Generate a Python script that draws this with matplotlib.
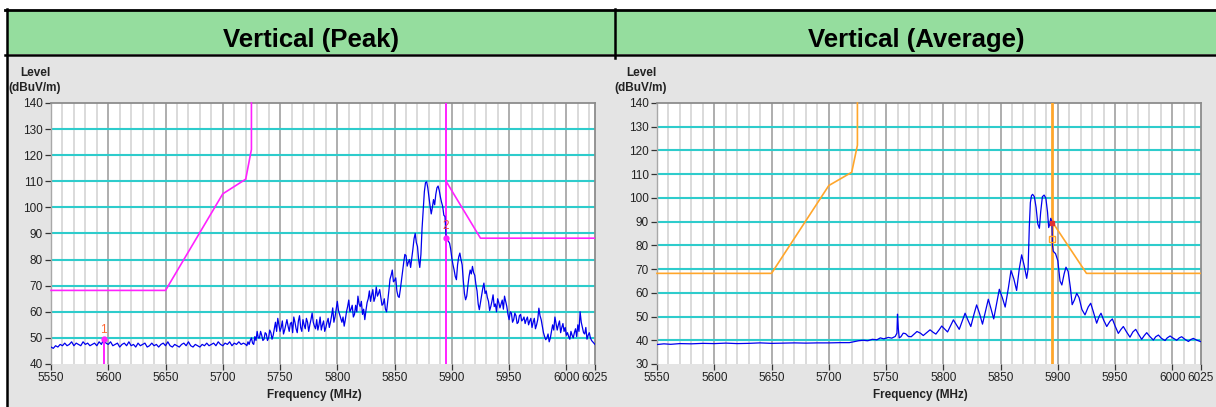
import numpy as np
import matplotlib
matplotlib.use("Agg")
import matplotlib.pyplot as plt
from matplotlib.patches import Rectangle
from matplotlib.lines import Line2D

plt.rcParams['font.family'] = ['Liberation Sans', 'DejaVu Sans']

# ---------------- data ----------------
titles = ["Vertical (Peak)", "Vertical (Average)"]
x_ticks = [5550, 5600, 5650, 5700, 5750, 5800, 5850, 5900, 5950, 6000, 6025]

# Peak trace (dBuV/m)
peak_freq_a = np.arange(5550, 5720, 2)
peak_level_a = [
    # 5550-5600
    46.5, 46.0, 47.0, 46.5, 47.5, 47.0, 48.0, 47.0, 47.5, 48.5, 47.0, 48.0, 47.5,
    47.0, 48.5, 47.5, 48.0, 47.0, 47.5, 48.0, 47.0, 48.5, 47.5, 49.6, 48.0, 47.5,
    # 5602-5700
    48.5, 47.0, 47.5, 48.0, 46.5, 47.5, 48.0, 47.0, 48.5, 47.0, 47.5, 46.5, 48.0,
    47.0, 47.5, 48.0, 46.5, 47.0, 48.0, 47.0, 47.5, 46.5, 47.5, 48.0, 47.0, 48.5,
    47.0, 46.5, 47.5, 47.0, 46.5, 47.5, 48.0, 47.0, 48.5, 47.0, 46.5, 47.5, 47.0,
    46.5, 47.5, 47.0, 48.0, 47.0, 47.5, 48.0, 47.0, 48.5, 47.5, 47.0,
    # 5702-5718
    48.0, 47.5, 48.5, 47.0, 48.0, 47.5, 48.5, 47.5, 48.0,
]
peak_freq_b = np.arange(5720, 5873, 1)
peak_level_b = [
    47.5, 47.0, 48.5, 47.5, 49.0, 50.0, 48.0, 47.5, 50.5, 49.0,
    52.5, 50.0, 50.0, 52.5, 51.0, 49.0, 49.5, 52.0, 51.5, 49.0,
    50.0, 53.0, 52.0, 49.5, 51.0, 53.5, 56.0, 52.5, 57.5, 55.0,
    52.5, 54.0, 56.5, 51.5, 53.0, 55.0, 57.0, 54.5, 52.5, 55.5,
    56.0, 52.0, 58.0, 56.0, 53.5, 52.0, 56.5, 58.5, 54.0, 52.5,
    57.0, 55.0, 53.5, 57.5, 56.0, 52.5, 55.0, 57.0, 59.5, 56.0,
    54.5, 53.5, 57.0, 53.0, 55.0, 58.0, 53.0, 55.0, 56.5, 52.5,
    54.0, 56.0, 57.5, 54.0, 56.0, 58.5, 61.5, 56.0, 58.0, 61.0,
    64.0, 60.5, 59.0, 57.5, 56.0, 58.0, 54.5, 57.0, 60.0, 62.0,
    64.5, 60.0, 61.0, 62.5, 58.0, 59.0, 62.5, 60.0, 66.0, 63.0,
    62.0, 64.0, 59.0, 61.0, 57.0, 60.5, 63.5, 65.0, 68.0, 64.0,
    66.5, 68.5, 64.0, 65.5, 69.5, 66.0, 67.0, 68.5, 65.5, 62.5,
    63.0, 65.0, 61.0, 60.0, 64.0, 68.0, 72.5, 74.0, 76.0, 71.5,
    72.0, 73.0, 68.0, 66.0, 65.5, 68.5, 72.0, 75.5, 79.0, 82.0,
    81.5, 77.5, 79.0, 80.0, 77.0, 80.5, 84.0, 88.0, 90.0, 86.5,
    85.0, 80.0, 77.0,
]
peak_freq_c = np.arange(5873, 5914, 1)
peak_level_c = [
    82.0, 92.0, 99.0, 106.0, 109.5, 109.8, 107.5, 104.0, 100.5, 97.5, 100.0,
    103.0, 101.0, 105.0, 107.5, 108.2, 106.5, 104.0, 102.0, 100.4, 97.0, 96.5,
    88.3, 88.5, 87.0, 86.3, 84.0, 80.5, 78.0, 76.0, 73.5, 72.3, 78.0, 81.0,
    82.5, 80.0, 78.0, 72.0, 67.0, 64.6, 66.0,
]
peak_freq_d = np.arange(5914, 6026, 1)
peak_level_d = [
    70.0, 73.5, 76.0, 74.5, 77.4, 75.0, 74.0, 70.5, 68.0, 63.0,
    60.8, 63.5, 66.0, 69.0, 71.0, 67.0, 68.0, 65.5, 64.0, 60.5,
    62.0, 64.0, 66.5, 62.0, 63.0, 60.0, 65.0, 63.5, 61.5, 63.0,
    64.5, 61.0, 66.0, 64.0, 62.0, 59.0, 57.0, 60.0, 59.5, 56.0,
    57.0, 59.5, 58.5, 55.5, 56.0, 58.5, 59.0, 56.5, 57.0, 58.0,
    55.5, 57.0, 58.0, 55.0, 56.5, 57.5, 54.0, 56.0, 57.5, 53.5,
    55.0, 57.0, 61.4, 58.5, 57.0, 54.5, 52.0, 50.5, 49.3, 50.0,
    51.5, 48.5, 50.0, 52.5, 55.0, 53.0, 58.0, 55.5, 53.0, 55.0,
    56.5, 52.0, 54.0, 55.5, 52.5, 54.0, 51.0, 52.0, 50.5, 49.5,
    52.5, 51.0, 50.0, 52.0, 53.5, 50.5, 55.0, 52.5, 60.0, 56.0,
    54.0, 52.0, 51.5, 54.0, 49.5, 51.0, 52.0, 50.0, 49.0, 48.5,
    48.0, 47.5,
]

# Average trace (dBuV/m)
avg_freq = [
    5550, 5556, 5562, 5570, 5580, 5590, 5600, 5610, 5620, 5630, 5640, 5650,
    5660, 5670, 5680, 5690, 5700, 5710, 5718, 5722, 5726, 5730, 5734, 5738,
    5742, 5745, 5748, 5752, 5755, 5758, 5759.5, 5760, 5760.7, 5761.5, 5763,
    5765, 5767, 5769.5, 5772, 5774.5, 5777, 5780, 5782.5, 5785.5, 5788.4,
    5791, 5793.5, 5796.5, 5798.6, 5801.5, 5803.7, 5806.5, 5808.8, 5811.5,
    5813.9, 5816.5, 5819.0, 5821.5, 5824.0, 5826.8, 5829.1, 5831.8, 5834.2,
    5837.0, 5839.3, 5841.8, 5844.0, 5846.5, 5848.9, 5851.5, 5854.0, 5856.8,
    5859.1, 5861.5, 5864.0, 5866.3, 5868.4, 5870.6, 5872.8, 5874.0, 5875.1,
    5876.0, 5877.0, 5878.0, 5879.5, 5881.0, 5882.5, 5883.9, 5885.0, 5886.5,
    5888.0, 5889.5, 5891.0, 5892.0, 5893.0, 5893.8, 5894.8, 5895.3, 5896.0,
    5898.0, 5900.0, 5901.9, 5903.5, 5905.5, 5907.1, 5909.0, 5911.0, 5912.5,
    5914.5, 5916.5, 5918.5, 5921.0, 5923.7, 5926.5, 5928.7, 5931.0, 5933.9,
    5936.0, 5937.7, 5940.0, 5942.7, 5945.5, 5947.6, 5950.0, 5952.8, 5955.0,
    5957.2, 5960.0, 5963.0, 5965.5, 5968.0, 5970.5, 5973.2, 5975.5, 5977.6,
    5980.5, 5983.4, 5985.5, 5987.8, 5990.5, 5993.6, 5995.5, 5998.0, 6001.0,
    6003.8, 6006.0, 6008.1, 6011.0, 6014.0, 6016.0, 6018.3, 6021.5, 6025.0,
]
avg_level = [
    38.2, 38.5, 38.3, 38.6, 38.5, 38.7, 38.6, 38.8, 38.6, 38.7, 38.9, 38.7,
    38.8, 38.9, 38.8, 38.9, 38.9, 39.0, 39.0, 39.4, 39.8, 40.0, 39.8, 40.4,
    40.2, 41.0, 40.6, 41.2, 40.9, 41.6, 43.0, 51.0, 45.0, 41.0, 41.5,
    43.0, 42.8, 41.6, 41.5, 42.6, 43.7, 43.0, 42.0, 43.2, 44.4,
    43.4, 42.6, 44.5, 46.0, 44.6, 43.5, 46.3, 48.6, 46.5,
    44.6, 48.0, 51.4, 48.5, 45.8, 51.0, 54.9, 51.0, 46.8,
    52.5, 57.3, 53.0, 49.0, 55.5, 61.5, 58.0, 54.0, 62.0,
    69.4, 66.0, 61.0, 70.0, 76.0, 71.5, 66.1, 70.0, 88.0,
    98.0, 101.0, 101.5, 100.5, 96.0, 89.0, 87.2, 94.0, 100.5,
    101.2, 100.0, 94.0, 87.5, 89.0, 91.4, 90.0, 80.0, 77.5,
    76.5, 73.5, 65.0, 63.3, 68.0, 70.8, 69.0, 62.0, 55.0,
    57.0, 59.8, 58.0, 53.0, 50.7, 54.0, 55.6, 52.0, 47.2,
    50.0, 51.4, 48.5, 45.8, 48.0, 49.0, 46.0, 42.9, 44.5,
    45.8, 43.5, 41.3, 43.5, 44.6, 42.5, 40.4, 42.0, 43.2,
    41.5, 40.1, 41.5, 42.2, 40.8, 39.9, 41.0, 41.8, 40.8,
    40.0, 41.0, 41.5, 40.4, 39.5, 40.3, 40.8, 40.0, 39.4,
]

# Limit lines
limit_left_freq = [5550, 5650, 5700, 5720, 5725, 5725]
limit_left_level = [68.2, 68.2, 105.2, 110.8, 122.2, 140.0]
limit_right_freq = [5895, 5925, 6025]
peak_limit_right_level = [110.0, 88.2, 88.2]
avg_limit_right_level = [90.0, 68.2, 68.2]

# Markers
peak_marker_freq = [5596, 5895]
peak_marker_level = [49.6, 88.3]
avg_marker_freq = 5895
avg_marker_level = [89.4, 82.6]

peak_freq = np.concatenate([peak_freq_a, peak_freq_b, peak_freq_c, peak_freq_d])
peak_level = np.array(peak_level_a + peak_level_b + peak_level_c + peak_level_d)
assert len(peak_freq_a) == len(peak_level_a), (len(peak_freq_a), len(peak_level_a))
assert len(peak_freq_b) == len(peak_level_b), (len(peak_freq_b), len(peak_level_b))
assert len(peak_freq_c) == len(peak_level_c), (len(peak_freq_c), len(peak_level_c))
assert len(peak_freq_d) == len(peak_level_d), (len(peak_freq_d), len(peak_level_d))
assert len(avg_freq) == len(avg_level), (len(avg_freq), len(avg_level))

# ---------------- layout ----------------
W, H = 1216, 407
def fx(x):
    return x / W
def fy(y):
    return 1 - y / H

fig = plt.figure(figsize=(12.16, 4.07), dpi=100)
fig.patch.set_facecolor('white')

fig.add_artist(Rectangle((fx(8), 0), 1 - fx(8), fy(57), transform=fig.transFigure,
                         facecolor='#E4E4E4', edgecolor='none', zorder=0))
fig.add_artist(Rectangle((fx(7), fy(54)), 1 - fx(7), fy(11) - fy(54), transform=fig.transFigure,
                         facecolor='#95DD9E', edgecolor='none', zorder=0))
bk = dict(transform=fig.transFigure, color='black', zorder=5)
fig.add_artist(Line2D([fx(5), 1], [fy(10), fy(10)], lw=2.0, **bk))
fig.add_artist(Line2D([fx(5), 1], [fy(54.5), fy(54.5)], lw=1.8, **bk))
fig.add_artist(Line2D([fx(7), fx(7)], [fy(9), 0], lw=1.8, **bk))
fig.add_artist(Line2D([fx(615), fx(615)], [fy(9), fy(58)], lw=1.8, **bk))

fig.text(fx(311), fy(40), titles[0], ha='center', va='center', fontsize=18.5, fontweight='bold')
fig.text(fx(916), fy(40), titles[1], ha='center', va='center', fontsize=18.5, fontweight='bold')

MAG = '#FF22FF'
ORG = '#FFA62B'
BLUE = '#0000EE'


def make_axes(left_px, ymin):
    ax = fig.add_axes([fx(left_px), fy(364), (595 - 51) / W, (364 - 103) / H])
    ax.set_facecolor('white')
    ax.set_xlim(5550, 6025)
    ax.set_ylim(ymin, 140)
    for f in range(5560, 6025, 10):
        if f % 50:
            ax.axvline(f, color='#D8D8D8', lw=1.3, zorder=1)
    for f in range(5600, 6025, 50):
        ax.axvline(f, color='#A8A8A8', lw=1.3, zorder=1)
    for v in range(ymin + 10, 140, 10):
        ax.axhline(v, color='#2ECCCC', lw=1.5, zorder=2)
    for s in ['top', 'right']:
        ax.spines[s].set_color('#8C8C8C')
        ax.spines[s].set_linewidth(1.3)
    ax.spines['left'].set_color('#A8A8A8')
    ax.spines['left'].set_linewidth(1.0)
    ax.spines['bottom'].set_visible(False)
    ax.set_xticks(x_ticks)
    ax.set_xticklabels([str(t) for t in x_ticks])
    ax.set_yticks(list(range(ymin, 141, 10)))
    ax.tick_params(axis='both', length=4, width=0.9, color='#333333',
                   labelsize=8.5, labelcolor='#222222', pad=2)
    fig.text(fx(left_px - 16), fy(73), 'Level', ha='center', va='center',
             fontsize=8.5, fontweight='bold', color='#222222')
    fig.text(fx(left_px - 16), fy(87.5), '(dBuV/m)', ha='center', va='center',
             fontsize=8.5, fontweight='bold', color='#222222')
    fig.text(fx(left_px + 263), fy(395), 'Frequency (MHz)', ha='center', va='center',
             fontsize=8.5, fontweight='bold', color='#222222')
    return ax


# Peak panel
ax1 = make_axes(51, 40)
ax1.plot(limit_left_freq, limit_left_level, color=MAG, lw=1.2, zorder=3, clip_on=False)
ax1.plot(limit_right_freq, peak_limit_right_level, color=MAG, lw=1.2, zorder=3)
ax1.axvline(peak_marker_freq[1], color=MAG, lw=1.4, zorder=3)
ax1.vlines(peak_marker_freq[0], 40, peak_marker_level[0], color=MAG, lw=1.4, zorder=3)
ax1.plot(peak_freq, peak_level, color=BLUE, lw=0.9, zorder=4)
ax1.plot(peak_marker_freq, peak_marker_level, 'o', color=MAG, ms=3.5, zorder=5)
ax1.text(peak_marker_freq[0], 53.2, '1', color='#FF6633', fontsize=8.5, ha='center', va='center', zorder=6)
ax1.text(peak_marker_freq[1], 93.0, '2', color='#E84848', fontsize=8.5, ha='center', va='center', zorder=6)

# Average panel
ax2 = make_axes(657, 30)
ax2.plot(limit_left_freq, limit_left_level, color=ORG, lw=1.2, zorder=3, clip_on=False)
ax2.plot(limit_right_freq, avg_limit_right_level, color=ORG, lw=1.2, zorder=3)
ax2.axvline(avg_marker_freq, color=ORG, lw=2.0, zorder=3)
ax2.plot(avg_freq, avg_level, color=BLUE, lw=0.9, zorder=4)
ax2.plot([avg_marker_freq], [avg_marker_level[0]], 's', color='#E03030', ms=2.5, zorder=5)
ax2.plot([avg_marker_freq], [avg_marker_level[1]], 's', mfc='none', mec=ORG, mew=1.0, ms=4, zorder=5)

fig.savefig('out.png', dpi=100)
